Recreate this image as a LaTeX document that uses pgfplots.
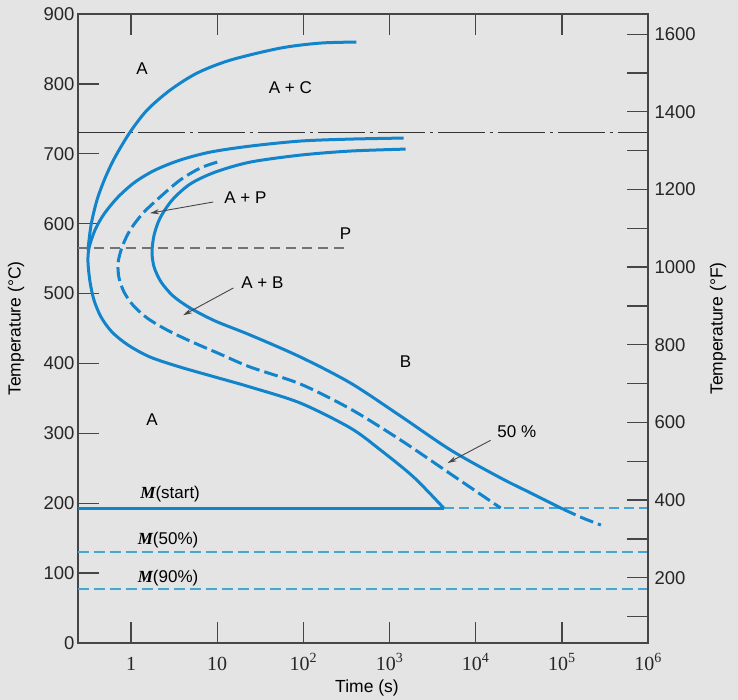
\documentclass[border=0pt]{standalone}
\usepackage{fontspec}
\setmainfont{Liberation Sans}
\newfontfamily\timesfont{Liberation Serif}
\usepackage{pgfplots}
\pgfplotsset{compat=1.18}
\usetikzlibrary{arrows.meta}
\definecolor{bgc}{RGB}{228,228,228}
\definecolor{cblue}{RGB}{18,132,204}
\definecolor{lblue}{RGB}{70,165,215}
\definecolor{axc}{RGB}{70,70,70}
\newcommand{\lbl}{\fontsize{17}{20}\selectfont}
\begin{document}
\begin{tikzpicture}
\fill[bgc] (-78pt,-57pt) rectangle (660pt,643pt);
\begin{axis}[
  scale only axis, width=570pt, height=629pt,
  at={(0,0)}, anchor=south west,
  xmode=log, xmin=0.242, xmax=1e6, ymin=0, ymax=900,
  xtick={1,10,100,1000,10000,100000,1000000},
  xticklabels={1,10,10\textsuperscript{2},10\textsuperscript{3},10\textsuperscript{4},10\textsuperscript{5},10\textsuperscript{6}},
  xminorticks=false,
  ytick={0,100,...,900},
  ytick pos=left, xtick pos=both,
  tick align=inside, major tick length=21pt,
  every tick/.style={axc, line width=1.3pt},
  axis line style={axc, line width=1.5pt},
  /pgf/number format/assume math mode=true,
  yticklabel style={font=\fontsize{18.5}{22}\selectfont, text=black!85},
  xticklabel style={font=\timesfont\fontsize{20}{24}\selectfont, text=black!85, inner sep=0pt, text height=16pt, text depth=0pt, yshift=-11pt},
  xlabel={Time (s)},
  xlabel style={font=\fontsize{17.5}{20}\selectfont, at={(axis description cs:0.507,-0.0715)}, anchor=center},
  ylabel={Temperature (°C)},
  ylabel style={font=\fontsize{17.5}{20}\selectfont, at={(axis description cs:-0.1088,0.5)}, anchor=center},
  no markers,
  clip=true,
]
% eutectoid dash-dot line
\addplot[black!80, line width=1.3pt, dash pattern=on 47pt off 5pt on 3pt off 5pt] coordinates {(0.242,730) (1e6,730)};
% P dashed line
\addplot[black!55, line width=1.3pt, dash pattern=on 10pt off 6pt] coordinates {(0.242,565) (343,565)};
% martensite lines
\addplot[cblue, line width=3pt] coordinates {(0.242,193) (4250,193)};
\addplot[lblue, line width=1.6pt, dash pattern=on 10pt off 5pt] coordinates {(4250,193) (1e6,193)};
\addplot[lblue, line width=2pt, dash pattern=on 11pt off 5pt] coordinates {(0.242,130) (1e6,130)};
\addplot[lblue, line width=2pt, dash pattern=on 11pt off 5pt] coordinates {(0.242,77) (1e6,77)};
% upper curve (A / A+C)
\addplot[cblue, line width=3pt, smooth] coordinates {
 (0.316,562.2) (0.343,598.0) (0.402,633.8) (0.499,665.2) (0.652,695.3) (0.974,731.0)
 (1.535,762.5) (2.84,791.1) (5.85,815.5) (14.2,834.0) (54.0,851.2) (158,858.4) (413,859.8)};
% start curve
\addplot[cblue, line width=3pt, smooth] coordinates {
 (1455,722.5) (352,721.0) (92.3,718.2) (24.2,711.0) (8.29,702.4) (3.71,691.0) (1.90,676.7)
 (1.11,659.5) (0.706,638.1) (0.485,613.7) (0.381,590.8) (0.325,565.1) (0.316,545.1)
 (0.334,516.5) (0.371,490.7) (0.448,466.4) (0.601,444.9) (0.923,426.3) (1.66,409.2)
 (3.71,394.8) (9.48,380.5) (24.2,366.2) (92.3,343.3) (352,307.6) (786,276.1)
 (1900,237.5) (4250,193.1)};
% 50% curve (dashed)
\addplot[cblue, line width=3pt, smooth, dash pattern=on 14pt off 5pt] coordinates {
 (10.0,688.1) (6.34,679.5) (3.71,662.4) (2.17,638.1) (1.38,615.2) (0.974,590.8)
 (0.786,566.5) (0.706,543.6) (0.725,522.2) (0.829,502.1) (1.05,483.5) (1.535,465.0)
 (2.62,447.8) (4.85,432.0) (10.8,413.4) (24.2,394.8) (92.3,370.5) (352,334.8)
 (1343,290.4) (5120,241.8) (19500,193.1)};
% finish curve
\addplot[cblue, line width=3pt, smooth] coordinates {
 (1535,706.7) (352,703.9) (92.3,698.1) (24.2,688.1) (9.48,673.8) (4.85,656.7) (3.0,633.8)
 (2.17,608.0) (1.85,583.7) (1.75,559.4) (1.85,537.9) (2.23,516.5) (3.08,496.4)
 (4.85,479.3) (9.48,460.7) (24.2,440.6) (92.3,409.2) (352,372.0) (1343,324.7)
 (5120,276.1) (19500,236.1) (43600,214.6) (102800,191.7)};
\addplot[cblue, line width=3pt, smooth, dash pattern=on 14pt off 5pt] coordinates {
 (102800,191.7) (175000,178.8) (284000,168.8)};
% arrows
\draw[axc, line width=0.9pt, -{Stealth[length=9pt,width=5pt]}] (axis cs:8.98,631) -- (axis cs:1.66,615);
\draw[axc, line width=0.9pt, -{Stealth[length=9pt,width=5pt]}] (axis cs:15.4,508) -- (axis cs:4.02,469);
\draw[axc, line width=0.9pt, -{Stealth[length=9pt,width=5pt]}] (axis cs:14900,290) -- (axis cs:4720,257.5);
% labels
\node[font=\lbl] at (axis cs:21.2,637) {A + P};
\node[font=\lbl] at (axis cs:33.4,516) {A + B};
\node[font=\lbl] at (axis cs:30000,302) {50 \%};
\node[font=\lbl] at (axis cs:1.34,822) {A};
\node[font=\lbl] at (axis cs:70.6,794) {A + C};
\node[font=\lbl] at (axis cs:308,586) {P};
\node[font=\lbl] at (axis cs:1535,402) {B};
\node[font=\lbl] at (axis cs:1.75,319) {A};
\node[font=\lbl] at (axis cs:2.84,213) {{\timesfont\bfseries\itshape M}(start)};
\node[font=\lbl] at (axis cs:2.69,147) {{\timesfont\bfseries\itshape M}(50\%)};
\node[font=\lbl] at (axis cs:2.69,93) {{\timesfont\bfseries\itshape M}(90\%)};
\end{axis}
\begin{axis}[
  scale only axis, width=570pt, height=629pt,
  at={(0,0)}, anchor=south west,
  xmode=log, xmin=0.242, xmax=1e6, ymin=32, ymax=1652,
  axis x line=none, axis y line*=right,
  ytick={100,200,...,1600},
  yticklabels={,200,,400,,600,,800,,1000,,1200,,1400,,1600},
  tick align=inside, major tick length=21pt,
  every tick/.style={axc, line width=1.3pt},
  axis line style={axc, line width=1.5pt},
  yticklabel style={font=\fontsize{18.5}{22}\selectfont, text=black!85, xshift=3pt},
  ylabel={Temperature (°F)},
  ylabel style={font=\fontsize{17.5}{20}\selectfont, at={(axis description cs:1.1228,0.5)}, anchor=center},
]
\addplot[draw=none] coordinates {(1,100)};
\end{axis}
\end{tikzpicture}
\end{document}
